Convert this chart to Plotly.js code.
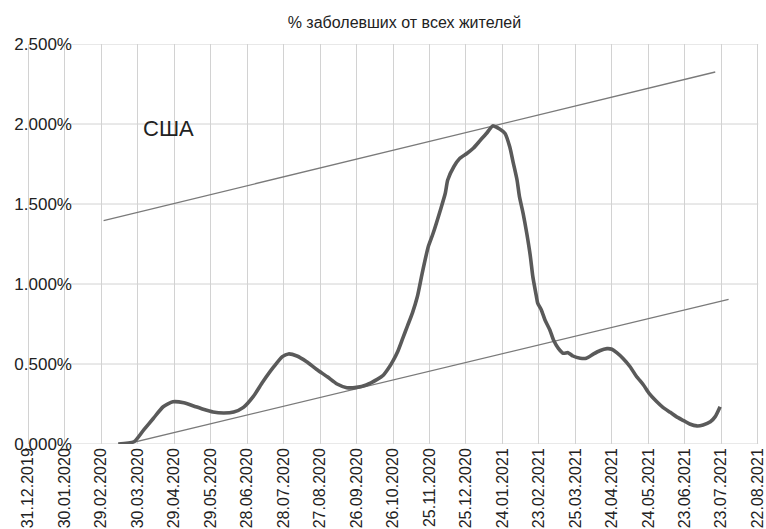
<!DOCTYPE html>
<html>
<head>
<meta charset="utf-8">
<script src="https://cdn.plot.ly/plotly-3.0.1.min.js"></script>
<style>
  html, body { margin: 0; padding: 0; background: #ffffff; }
  #chart { width: 766px; height: 529px; }
</style>
</head>
<body>
<div id="chart"></div>
<script>
// ---- data ----
const chartTitle = '% заболевших от всех жителей';
const countryLabel = 'США';

const dates = [
  '2020-03-14','2020-03-27','2020-04-04','2020-04-12','2020-04-20','2020-04-28',
  '2020-05-07','2020-05-15','2020-05-23','2020-05-31','2020-06-09','2020-06-17',
  '2020-06-25','2020-07-03','2020-07-11','2020-07-20','2020-07-27','2020-08-01',
  '2020-08-08','2020-08-16','2020-08-24','2020-09-02','2020-09-10','2020-09-18',
  '2020-09-26','2020-10-04','2020-10-13','2020-10-18','2020-10-22','2020-10-26',
  '2020-10-30','2020-11-03','2020-11-07','2020-11-11','2020-11-15','2020-11-19',
  '2020-11-24','2020-11-28','2020-12-04','2020-12-08','2020-12-10','2020-12-15',
  '2020-12-20','2020-12-26','2020-12-31','2021-01-06','2021-01-11','2021-01-16',
  '2021-01-22','2021-01-26','2021-01-30','2021-02-02','2021-02-05','2021-02-07',
  '2021-02-10','2021-02-13','2021-02-16','2021-02-18','2021-02-21','2021-02-22',
  '2021-02-25','2021-02-28','2021-03-04','2021-03-07','2021-03-11','2021-03-15',
  '2021-03-19','2021-03-23','2021-03-29','2021-04-03','2021-04-09','2021-04-14',
  '2021-04-20','2021-04-24','2021-04-28','2021-05-03','2021-05-09','2021-05-14',
  '2021-05-20','2021-05-25','2021-05-31','2021-06-05','2021-06-11','2021-06-16',
  '2021-06-22','2021-06-27','2021-07-03','2021-07-08','2021-07-14','2021-07-18',
  '2021-07-22'
];
const pct = [
  0.000, 0.014, 0.088, 0.161, 0.233, 0.264,
  0.258, 0.238, 0.217, 0.200, 0.194, 0.200,
  0.229, 0.296, 0.389, 0.483, 0.546, 0.563,
  0.550, 0.514, 0.467, 0.420, 0.375, 0.352,
  0.354, 0.369, 0.404, 0.430, 0.470, 0.520,
  0.580, 0.660, 0.740, 0.820, 0.920, 1.067,
  1.233, 1.317, 1.463, 1.567, 1.650, 1.733,
  1.786, 1.817, 1.848, 1.900, 1.942, 1.988,
  1.967, 1.942, 1.858, 1.754, 1.650, 1.546,
  1.442, 1.317, 1.171, 1.046, 0.920, 0.880,
  0.838, 0.775, 0.713, 0.650, 0.598, 0.567,
  0.571, 0.550, 0.536, 0.536, 0.563, 0.583,
  0.596, 0.592, 0.571, 0.536, 0.483, 0.425,
  0.369, 0.313, 0.264, 0.229, 0.198, 0.171,
  0.146, 0.125, 0.113, 0.119, 0.139, 0.171,
  0.233
];

// trend channel lines (start / end)
const upperDates = ['2020-03-02', '2021-07-18'];
const upperVals  = [1.396, 2.325];
const lowerDates = ['2020-03-14', '2021-07-29'];
const lowerVals  = [-0.0125, 0.904];

// axis ticks
const xTickLabels = [
  '31.12.2019','30.01.2020','29.02.2020','30.03.2020','29.04.2020','29.05.2020',
  '28.06.2020','28.07.2020','27.08.2020','26.09.2020','26.10.2020','25.11.2020',
  '25.12.2020','24.01.2021','23.02.2021','25.03.2021','24.04.2021','24.05.2021',
  '23.06.2021','23.07.2021','22.08.2021'
];
const xRange = ['2019-12-30', '2021-08-23'];
const yTickVals  = [0, 0.5, 1.0, 1.5, 2.0, 2.5];
const yTickText  = ['0.000%','0.500%','1.000%','1.500%','2.000%','2.500%'];

// ---- build ----
const toIso = s => { const p = s.split('.'); return p[2] + '-' + p[1] + '-' + p[0]; };
const xTickVals = xTickLabels.map(toIso);

const gridColor = '#d2d2d2';
const font = '"Liberation Sans", Arial, sans-serif';

const traces = [
  {
    x: upperDates, y: upperVals, type: 'scatter', mode: 'lines',
    line: { color: '#7a7a7a', width: 1.4 }, hoverinfo: 'skip', cliponaxis: false
  },
  {
    x: lowerDates, y: lowerVals, type: 'scatter', mode: 'lines',
    line: { color: '#7a7a7a', width: 1.4 }, hoverinfo: 'skip', cliponaxis: false
  },
  {
    x: dates, y: pct, type: 'scatter', mode: 'lines',
    line: { color: '#5a5a5a', width: 3.6, shape: 'spline', smoothing: 0.6 },
    cliponaxis: false
  }
];

const shapes = yTickVals.map(v => ({
  type: 'line', layer: 'below',
  xref: 'paper', x0: 0.06, x1: 0.999,
  yref: 'y', y0: v, y1: v,
  line: { color: gridColor, width: 1 }
}));

const layout = {
  width: 766, height: 529,
  margin: { l: 27, r: 7, t: 44, b: 85 },
  paper_bgcolor: '#ffffff', plot_bgcolor: '#ffffff',
  showlegend: false,
  title: {
    text: chartTitle,
    font: { family: font, size: 16, color: '#222222' },
    x: 0.528, xanchor: 'center', y: 0.958, yanchor: 'middle'
  },
  xaxis: {
    type: 'date',
    range: xRange,
    tickmode: 'array', tickvals: xTickVals, ticktext: xTickLabels,
    tickangle: -90,
    tickfont: { family: font, size: 16, color: '#222222' },
    ticks: '', showgrid: true, gridcolor: gridColor, gridwidth: 1,
    showline: false, zeroline: false, fixedrange: true
  },
  yaxis: {
    range: [0, 2.5],
    tickmode: 'array', tickvals: yTickVals, ticktext: yTickText,
    tickfont: { family: font, size: 17, color: '#222222' },
    ticks: '', showgrid: false, zeroline: false, showline: false,
    ticklabelstandoff: -46, fixedrange: true
  },
  shapes: shapes,
  annotations: [{
    text: countryLabel, xref: 'x', yref: 'y',
    x: '2020-04-24', y: 1.975, showarrow: false,
    font: { family: font, size: 22, color: '#222222' },
    xanchor: 'center', yanchor: 'middle'
  }]
};

Plotly.newPlot('chart', traces, layout, { staticPlot: true, displayModeBar: false });
</script>
</body>
</html>
